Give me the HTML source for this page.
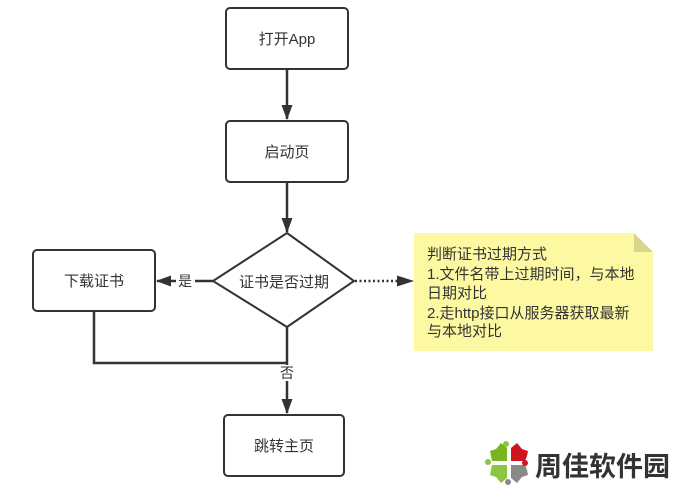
<!DOCTYPE html>
<html><head><meta charset="utf-8">
<style>
html,body{margin:0;padding:0;background:#fff;}
svg{display:block;}
text{font-family:"Liberation Sans","Noto Sans CJK SC",sans-serif;}
</style></head>
<body>
<svg width="678" height="489" viewBox="0 0 678 489" xmlns="http://www.w3.org/2000/svg">
<defs>
<marker id="ah" markerWidth="15" markerHeight="12" refX="14" refY="6" orient="auto" markerUnits="userSpaceOnUse">
<path d="M0,0.5 L15,6 L0,11.5 Z" fill="#333"/>
</marker>
</defs>
<!-- boxes -->
<rect x="226" y="8" width="122" height="61" rx="4" fill="#fff" stroke="#333" stroke-width="2"/>
<text x="287" y="44" font-size="15" fill="#333" text-anchor="middle">打开App</text>

<rect x="226" y="121" width="122" height="61" rx="4" fill="#fff" stroke="#333" stroke-width="2"/>
<text x="287" y="157" font-size="15" fill="#333" text-anchor="middle">启动页</text>

<rect x="33" y="250" width="122" height="61" rx="4" fill="#fff" stroke="#333" stroke-width="2"/>
<text x="94" y="286" font-size="15" fill="#333" text-anchor="middle">下载证书</text>

<rect x="224" y="415" width="120" height="61" rx="4" fill="#fff" stroke="#333" stroke-width="2"/>
<text x="284" y="451" font-size="15" fill="#333" text-anchor="middle">跳转主页</text>

<!-- diamond -->
<polygon points="287,233 354,281 287,327 213,281" fill="#fff" stroke="#333" stroke-width="2"/>
<text x="284" y="287" font-size="15" fill="#333" text-anchor="middle">证书是否过期</text>

<!-- connectors -->
<line x1="287" y1="69" x2="287" y2="119" stroke="#333" stroke-width="2.5" marker-end="url(#ah)"/>
<line x1="287" y1="182" x2="287" y2="232" stroke="#333" stroke-width="2.5" marker-end="url(#ah)"/>
<line x1="213" y1="281" x2="195" y2="281" stroke="#333" stroke-width="2.5"/>
<line x1="176" y1="281" x2="157" y2="281" stroke="#333" stroke-width="2.5" marker-end="url(#ah)"/>
<text x="185" y="286" font-size="14" fill="#333" text-anchor="middle">是</text>
<line x1="355" y1="281" x2="400" y2="281" stroke="#333" stroke-width="2.5" stroke-dasharray="2,2.5" />
<path d="M397,275.5 L414,281 L397,286.5 Z" fill="#333"/>
<polyline points="94,311 94,363 287,363" fill="none" stroke="#333" stroke-width="2.5"/>
<line x1="287" y1="327" x2="287" y2="365" stroke="#333" stroke-width="2.5"/>
<line x1="287" y1="381" x2="287" y2="413" stroke="#333" stroke-width="2.5" marker-end="url(#ah)"/>
<rect x="279" y="365" width="16" height="16" fill="#fff"/>
<text x="287" y="378" font-size="14" fill="#333" text-anchor="middle">否</text>

<!-- note -->
<path d="M414,233 L634,233 L653,252 L653,351 L414,351 Z" fill="#fdf9a2"/>
<path d="M634,233 L653,252 L634,252 Z" fill="#d9d48e"/>
<g font-size="15" fill="#333">
<text x="427" y="259">判断证书过期方式</text>
<text x="427" y="279">1.文件名带上过期时间，与本地</text>
<text x="427" y="298">日期对比</text>
<text x="427" y="318">2.走http接口从服务器获取最新</text>
<text x="427" y="336">与本地对比</text>
</g>

<!-- logo -->
<g>
<path d="M507,461 L507,448 L501,443 L496,449 L490,451 L491,456 L492,461 Z" fill="#79b51c"/>
<path d="M511,461 L511,448 L517,443 L522,449 L528,451 L527,456 L525,461 Z" fill="#d0151e"/>
<path d="M507,465 L507,478 L501,483 L496,477 L490,475 L491,470 L492,465 Z" fill="#8cc63f"/>
<path d="M511,465 L511,478 L517,483 L522,477 L528,475 L527,470 L525,465 Z" fill="#8a8a8a"/>
<circle cx="506" cy="444" r="3" fill="#8cc63f"/>
<circle cx="525" cy="463" r="3" fill="#d0151e"/>
<circle cx="508" cy="482" r="3" fill="#8a8a8a"/>
<circle cx="488" cy="462" r="3" fill="#8cc63f"/>
</g>
<text x="535" y="476" font-size="27" font-weight="bold" fill="#333" style="font-family:'Noto Sans CJK SC',sans-serif;">周佳软件园</text>
</svg>
</body></html>
